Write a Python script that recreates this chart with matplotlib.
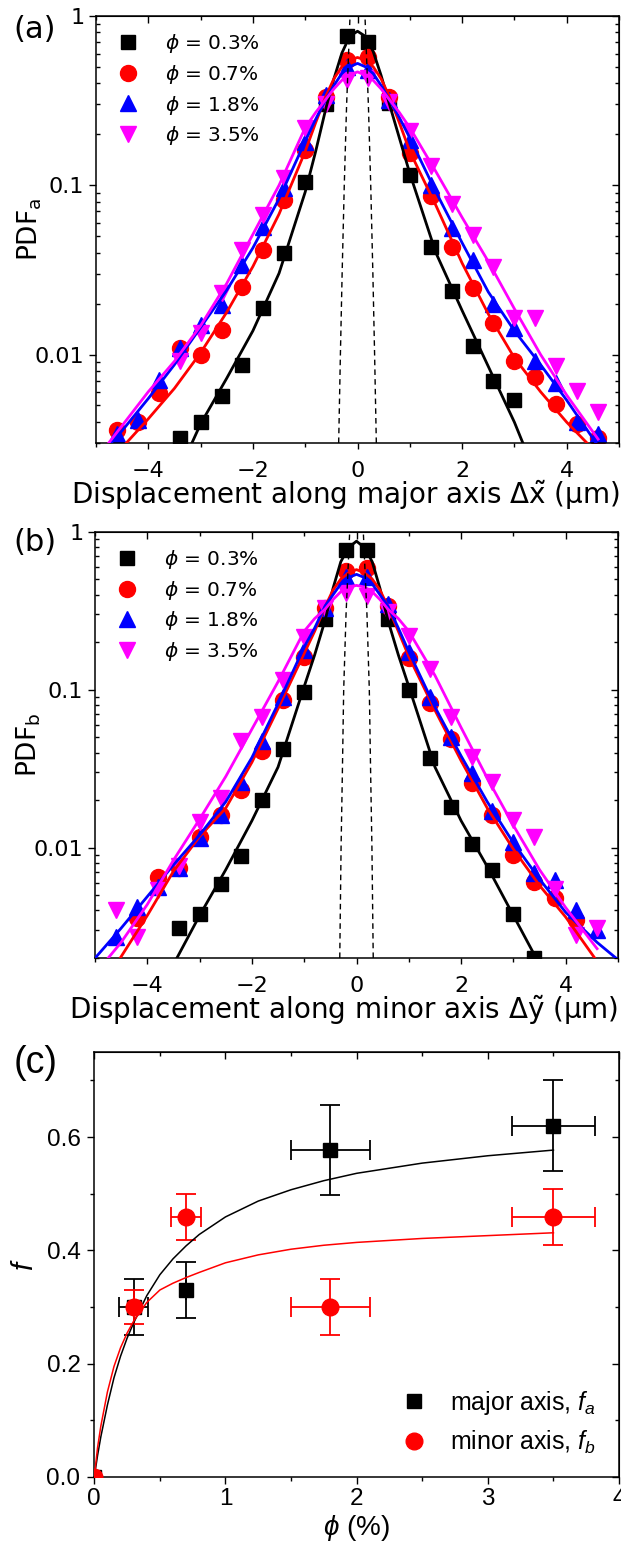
import numpy as np
import matplotlib
matplotlib.use("Agg")
import matplotlib.pyplot as plt
from matplotlib.ticker import (LogLocator, FixedLocator, MultipleLocator,
                               FuncFormatter, NullFormatter, FormatStrFormatter)

plt.rcParams['font.family'] = ['DejaVu Sans']
plt.rcParams['mathtext.fontset'] = 'dejavusans'
plt.rcParams['mathtext.rm'] = 'Liberation Sans'
plt.rcParams['mathtext.it'] = 'Liberation Sans:italic'
plt.rcParams['mathtext.bf'] = 'Liberation Sans:bold'

nan = float('nan')

# ---------------- data: panels (a) and (b) ----------------
phi_labels = ['0.3%', '0.7%', '1.8%', '3.5%']
dx = [-4.6, -4.2, -3.8, -3.4, -3.0, -2.6, -2.2, -1.8, -1.4, -1.0, -0.6, -0.2,
      0.2, 0.6, 1.0, 1.4, 1.8, 2.2, 2.6, 3.0, 3.4, 3.8, 4.2, 4.6]

pdf_a_03 = [nan, nan, nan, 0.0032, 0.0040, 0.0057, 0.0087, 0.0188, 0.040, 0.105, 0.30, 0.76,
            0.70, 0.305, 0.115, 0.0434, 0.0236, 0.0112, 0.0070, 0.0054, nan, nan, nan, nan]
pdf_a_07 = [0.0036, 0.0040, 0.0059, 0.0109, 0.0100, 0.014, 0.025, 0.0415, 0.082, 0.162, 0.33, 0.55,
            0.57, 0.33, 0.155, 0.086, 0.0434, 0.0247, 0.0153, 0.0092, 0.0074, 0.0051, 0.0039, 0.0032]
pdf_a_18 = [0.0034, 0.0041, 0.0071, 0.0109, 0.015, 0.0196, 0.034, 0.057, 0.096, 0.18, 0.34, 0.50,
            0.48, 0.32, 0.185, 0.10, 0.056, 0.036, 0.020, 0.0143, 0.0091, 0.0068, 0.0040, 0.0034]
pdf_a_35 = [nan, nan, nan, 0.0091, 0.0134, 0.023, 0.0415, 0.067, 0.11, 0.217, 0.30, 0.42,
            0.43, 0.31, 0.21, 0.13, 0.078, 0.051, 0.033, 0.0164, 0.0164, 0.0085, 0.0061, 0.0046]

pdf_b_03 = [nan, nan, nan, 0.0031, 0.0038, 0.0059, 0.0088, 0.020, 0.042, 0.097, 0.28, 0.77,
            0.77, 0.28, 0.099, 0.037, 0.018, 0.0106, 0.0072, 0.0038, 0.0020, nan, nan, nan]
pdf_b_07 = [nan, 0.0036, 0.0065, 0.0074, 0.0117, 0.0161, 0.023, 0.041, 0.086, 0.162, 0.33, 0.56,
            0.59, 0.34, 0.158, 0.082, 0.0485, 0.0255, 0.0161, 0.0090, 0.0061, 0.0048, 0.0035, nan]
pdf_b_18 = [0.0027, 0.0042, 0.0056, 0.0074, 0.0115, 0.016, 0.026, 0.047, 0.090, 0.178, 0.33, 0.52,
            0.52, 0.35, 0.174, 0.090, 0.050, 0.0295, 0.017, 0.0109, 0.0069, 0.0062, 0.0040, 0.0030]
pdf_b_35 = [0.0040, 0.0027, 0.0054, 0.0076, 0.0146, 0.0205, 0.047, 0.0675, 0.115, 0.216, 0.33, 0.41,
            0.39, 0.31, 0.22, 0.136, 0.0675, 0.0377, 0.026, 0.015, 0.0117, 0.0055, 0.0028, 0.0031]

# fitted curves (log10 of PDF)
x_fit = [-5, -4.5, -4, -3.5, -3, -2.5, -2, -1.5, -1, -0.8, -0.6, -0.45, -0.3, -0.15, 0,
         0.15, 0.3, 0.45, 0.6, 0.8, 1, 1.5, 2, 2.5, 3, 3.5, 4, 4.6, 5]
fit_a_03 = [-4.2, -3.75, -3.15, -2.75, -2.41, -2.14, -1.86, -1.52, -1.04, -0.80, -0.54, -0.37, -0.22, -0.12, -0.09,
            -0.12, -0.21, -0.35, -0.51, -0.72, -0.93, -1.40, -1.74, -2.07, -2.40, -2.78, -3.2, -3.8, -4.2]
fit_a_07 = [-2.72, -2.55, -2.38, -2.20, -1.99, -1.75, -1.48, -1.17, -0.80, -0.63, -0.47, -0.37, -0.30, -0.26, -0.245,
            -0.26, -0.30, -0.37, -0.47, -0.63, -0.80, -1.12, -1.46, -1.76, -2.02, -2.22, -2.40, -2.59, -2.72]
fit_a_18 = [-2.62, -2.45, -2.26, -2.06, -1.84, -1.62, -1.37, -1.08, -0.74, -0.61, -0.49, -0.41, -0.34, -0.30, -0.28,
            -0.30, -0.34, -0.41, -0.49, -0.60, -0.72, -1.04, -1.34, -1.63, -1.86, -2.06, -2.27, -2.54, -2.72]
fit_a_35 = [-2.62, -2.42, -2.22, -2.04, -1.83, -1.58, -1.29, -1.00, -0.66, -0.57, -0.49, -0.43, -0.38, -0.35, -0.33,
            -0.35, -0.38, -0.43, -0.49, -0.57, -0.66, -0.92, -1.19, -1.45, -1.73, -2.00, -2.24, -2.50, nan]

fit_b_03 = [-3.9, -3.5, -3.1, -2.74, -2.43, -2.14, -1.83, -1.49, -0.98, -0.78, -0.56, -0.36, -0.19, -0.10, -0.06,
            -0.10, -0.19, -0.36, -0.56, -0.78, -0.98, -1.49, -1.83, -2.12, -2.43, -2.74, -3.1, -3.6, -3.9]
fit_b_07 = [-2.95, -2.69, -2.43, -2.15, -1.93, -1.75, -1.46, -1.12, -0.77, -0.63, -0.475, -0.37, -0.30, -0.26, -0.24,
            -0.26, -0.30, -0.37, -0.475, -0.63, -0.79, -1.13, -1.45, -1.75, -2.01, -2.24, -2.44, -2.72, -2.88]
fit_b_18 = [-2.70, -2.51, -2.31, -2.11, -1.92, -1.71, -1.43, -1.09, -0.73, -0.61, -0.47, -0.40, -0.33, -0.29, -0.27,
            -0.29, -0.33, -0.40, -0.47, -0.61, -0.76, -1.11, -1.42, -1.71, -1.97, -2.20, -2.41, -2.60, -2.71]
fit_b_35 = [-2.80, -2.60, -2.36, -2.08, -1.82, -1.55, -1.25, -0.95, -0.63, -0.55, -0.49, -0.43, -0.38, -0.35, -0.34,
            -0.35, -0.38, -0.43, -0.49, -0.55, -0.63, -0.91, -1.24, -1.56, -1.86, -2.14, -2.38, -2.64, nan]

# dashed reference curves: half-width vs PDF level
dash_levels_a = [0.003, 0.01, 0.03, 0.1, 0.3, 1.0]
dash_halfwidth_a = [0.36, 0.327, 0.294, 0.253, 0.208, 0.143]
dash_levels_b = [0.002, 0.01, 0.03, 0.1, 0.3, 1.0]
dash_halfwidth_b = [0.32, 0.295, 0.27, 0.245, 0.20, 0.13]

# ---------------- data: panel (c) ----------------
phi_pts = [0.0, 0.3, 0.7, 1.8, 3.5]
f_a = [0.0, 0.30, 0.33, 0.577, 0.62]
f_a_low = [0.0, 0.25, 0.28, 0.497, 0.54]
f_a_high = [0.0, 0.35, 0.38, 0.657, 0.70]
f_a_xerr = [0.0, 0.11, 0.0, 0.30, 0.315]
f_b = [0.0, 0.30, 0.459, 0.30, 0.459]
f_b_low = [0.0, 0.27, 0.419, 0.25, 0.409]
f_b_high = [0.0, 0.33, 0.499, 0.35, 0.508]
f_b_xerr = [0.0, 0.0, 0.117, 0.30, 0.315]

phi_curve = [0, 0.025, 0.05, 0.1, 0.15, 0.2, 0.25, 0.3, 0.4, 0.5, 0.6, 0.7, 0.8, 1.0, 1.25, 1.5,
             1.75, 2.0, 2.5, 3.0, 3.5]
f_a_curve = [0, 0.038, 0.071, 0.127, 0.175, 0.213, 0.245, 0.272, 0.320, 0.357, 0.385, 0.408, 0.428,
             0.459, 0.487, 0.507, 0.523, 0.536, 0.554, 0.567, 0.577]
f_b_curve = [0, 0.052, 0.090, 0.150, 0.195, 0.228, 0.254, 0.275, 0.308, 0.330, 0.342, 0.352, 0.361,
             0.378, 0.392, 0.402, 0.409, 0.414, 0.421, 0.426, 0.431]

# ---------------- styles ----------------
colors = ['black', 'red', 'blue', 'magenta']
markers = ['s', 'o', '^', 'v']
msizes = [9.5, 11.5, 11, 11]

W, H = 621, 1545
fig = plt.figure(figsize=(W / 100, H / 100), dpi=100)


def rect(l, t, r, b):
    return [l / W, 1 - b / H, (r - l) / W, (b - t) / H]


def pdf_panel(ax, series, fits, ylim, dash_lv, dash_hw, xlabel, ylabel):
    for ys, c, m, ms, lab in zip(series, colors, markers, msizes, phi_labels):
        ax.plot(dx, ys, ls='none', marker=m, ms=ms, color=c, mec=c, zorder=2,
                label=r'$\phi$ = ' + lab)
    for fl, c in zip(fits, colors):
        ax.plot(x_fit, 10 ** np.array(fl, dtype=float), color=c, lw=2.0, zorder=3)
    hw = np.array(dash_hw)
    ax.plot(-hw, dash_lv, color='black', ls=(0, (4, 3)), lw=1.0, zorder=4)
    ax.plot(hw, dash_lv, color='black', ls=(0, (4, 3)), lw=1.0, zorder=4)
    ax.set_yscale('log')
    ax.set_xlim(-5, 5)
    ax.set_ylim(*ylim)
    ax.xaxis.set_major_locator(MultipleLocator(2))
    ax.xaxis.set_minor_locator(MultipleLocator(1))
    ax.yaxis.set_major_locator(FixedLocator([0.01, 0.1, 1]))
    ax.yaxis.set_minor_locator(LogLocator(base=10, subs=np.arange(2, 10)))
    ax.yaxis.set_major_formatter(FuncFormatter(lambda v, p: '%g' % v))
    ax.yaxis.set_minor_formatter(NullFormatter())
    ax.tick_params(axis='y', which='major', direction='out', length=5, width=1,
                   labelsize=16, pad=3.5)
    ax.tick_params(axis='y', which='minor', direction='in', length=3, width=1)
    ax.tick_params(axis='x', which='major', direction='out', length=4, width=1,
                   labelsize=16, pad=9)
    ax.tick_params(axis='x', which='minor', direction='out', length=3, width=1)
    for s in ax.spines.values():
        s.set_linewidth(1.1)
    top = ax.secondary_xaxis('top')
    top.xaxis.set_major_locator(MultipleLocator(2))
    top.xaxis.set_minor_locator(MultipleLocator(1))
    top.tick_params(which='major', direction='in', length=5, width=1, labeltop=False)
    top.tick_params(which='minor', direction='in', length=3, width=1)
    right = ax.secondary_yaxis('right')
    right.yaxis.set_major_locator(FixedLocator([0.01, 0.1, 1]))
    right.yaxis.set_minor_locator(LogLocator(base=10, subs=np.arange(2, 10)))
    right.yaxis.set_minor_formatter(NullFormatter())
    right.tick_params(which='major', direction='in', length=5, width=1, labelright=False)
    right.tick_params(which='minor', direction='in', length=3, width=1)
    ax.set_xlabel(xlabel, fontsize=20)
    ax.xaxis.set_label_coords(0.476, -0.083)
    ax.set_ylabel(ylabel, fontsize=19)
    ax.yaxis.set_label_coords(-0.10, 0.5)
    ax.legend(loc='upper left', bbox_to_anchor=(0.042, 0.962), frameon=False,
              fontsize=14.5, handlelength=1.0, handletextpad=1.35, labelspacing=0.38,
              borderpad=0, borderaxespad=0, numpoints=1)


ax_a = fig.add_axes(rect(96, 16, 619, 443))
pdf_panel(ax_a, [pdf_a_03, pdf_a_07, pdf_a_18, pdf_a_35],
          [fit_a_03, fit_a_07, fit_a_18, fit_a_35], (0.003, 1),
          dash_levels_a, dash_halfwidth_a,
          r'Displacement along major axis $\Delta\tilde{\mathrm{x}}$ (μm)',
          r'PDF$_\mathrm{a}$')

ax_b = fig.add_axes(rect(95, 531.7, 618, 958))
pdf_panel(ax_b, [pdf_b_03, pdf_b_07, pdf_b_18, pdf_b_35],
          [fit_b_03, fit_b_07, fit_b_18, fit_b_35], (0.002, 1),
          dash_levels_b, dash_halfwidth_b,
          r'Displacement along minor axis $\Delta\tilde{\mathrm{y}}$ (μm)',
          r'PDF$_\mathrm{b}$')

# ---------------- panel (c) ----------------
LS = 'Liberation Sans'
ax_c = fig.add_axes(rect(94.3, 1052.1, 619, 1476.9))
for fv, lo, hi, xe, c, m, ms, lab in [
        (f_a, f_a_low, f_a_high, f_a_xerr, 'black', 's', 10.5, r'major axis, $f_a$'),
        (f_b, f_b_low, f_b_high, f_b_xerr, 'red', 'o', 12, r'minor axis, $f_b$')]:
    fv = np.array(fv); lo = np.array(lo); hi = np.array(hi); xe = np.array(xe)
    px = np.array(phi_pts)
    sel = px > 0
    ax_c.errorbar(px[sel], fv[sel], yerr=[fv[sel] - lo[sel], hi[sel] - fv[sel]],
                  xerr=xe[sel], fmt='none', ecolor=c, elinewidth=1.3, capsize=7.5,
                  capthick=1.3, zorder=2)
    ax_c.plot(px, fv, ls='none', marker=m, ms=ms, color=c, zorder=4, label=lab)
ax_c.plot(phi_curve, f_a_curve, color='black', lw=1.1, zorder=3)
ax_c.plot(phi_curve, f_b_curve, color='red', lw=1.1, zorder=3)
ax_c.set_xlim(0, 4)
ax_c.set_ylim(0, 0.75)
ax_c.xaxis.set_major_locator(MultipleLocator(1))
ax_c.xaxis.set_minor_locator(MultipleLocator(0.5))
ax_c.yaxis.set_major_locator(FixedLocator([0, 0.2, 0.4, 0.6]))
ax_c.yaxis.set_minor_locator(FixedLocator([0.1, 0.3, 0.5, 0.7]))
ax_c.xaxis.set_major_formatter(FormatStrFormatter('%d'))
ax_c.yaxis.set_major_formatter(FormatStrFormatter('%.1f'))
ax_c.tick_params(which='major', direction='out', length=5, width=1, labelsize=17.5)
ax_c.tick_params(which='minor', direction='out', length=3, width=1)
ax_c.tick_params(axis='x', pad=3)
ax_c.tick_params(axis='y', pad=5)
for lbl in ax_c.get_xticklabels() + ax_c.get_yticklabels():
    lbl.set_fontfamily(LS)
for s in ax_c.spines.values():
    s.set_linewidth(1.1)
topc = ax_c.secondary_xaxis('top')
topc.xaxis.set_major_locator(MultipleLocator(1))
topc.xaxis.set_minor_locator(MultipleLocator(0.5))
topc.tick_params(which='major', direction='in', length=5, width=1, labeltop=False)
topc.tick_params(which='minor', direction='in', length=3, width=1)
rightc = ax_c.secondary_yaxis('right')
rightc.yaxis.set_major_locator(FixedLocator([0, 0.2, 0.4, 0.6]))
rightc.yaxis.set_minor_locator(FixedLocator([0.1, 0.3, 0.5, 0.7]))
rightc.tick_params(which='major', direction='in', length=5, width=1, labelright=False)
rightc.tick_params(which='minor', direction='in', length=3, width=1)
ax_c.set_xlabel(r'$\phi$ (%)', fontsize=20, fontfamily=LS, math_fontfamily='custom')
ax_c.xaxis.set_label_coords(0.5, -0.085)
ax_c.set_ylabel(r'$f$', fontsize=21, fontfamily=LS, math_fontfamily='custom')
ax_c.yaxis.set_label_coords(-0.105, 0.5)
leg = ax_c.legend(loc='lower left', bbox_to_anchor=(0.585, 0.05), frameon=False,
                  prop={'family': LS, 'size': 18}, handlelength=1.0, handletextpad=0.95,
                  labelspacing=0.45, borderpad=0, borderaxespad=0, numpoints=1)
for t in leg.get_texts():
    t.set_math_fontfamily('custom')

# panel letters
fig.text(13 / W, 1 - 30 / H, '(a)', fontsize=22, va='center', ha='left')
fig.text(13 / W, 1 - 542.5 / H, '(b)', fontsize=22, va='center', ha='left')
fig.text(14 / W, 1 - 1062.6 / H, '(c)', fontsize=27, va='center', ha='left', fontfamily=LS)

fig.savefig('out.png', dpi=100)
